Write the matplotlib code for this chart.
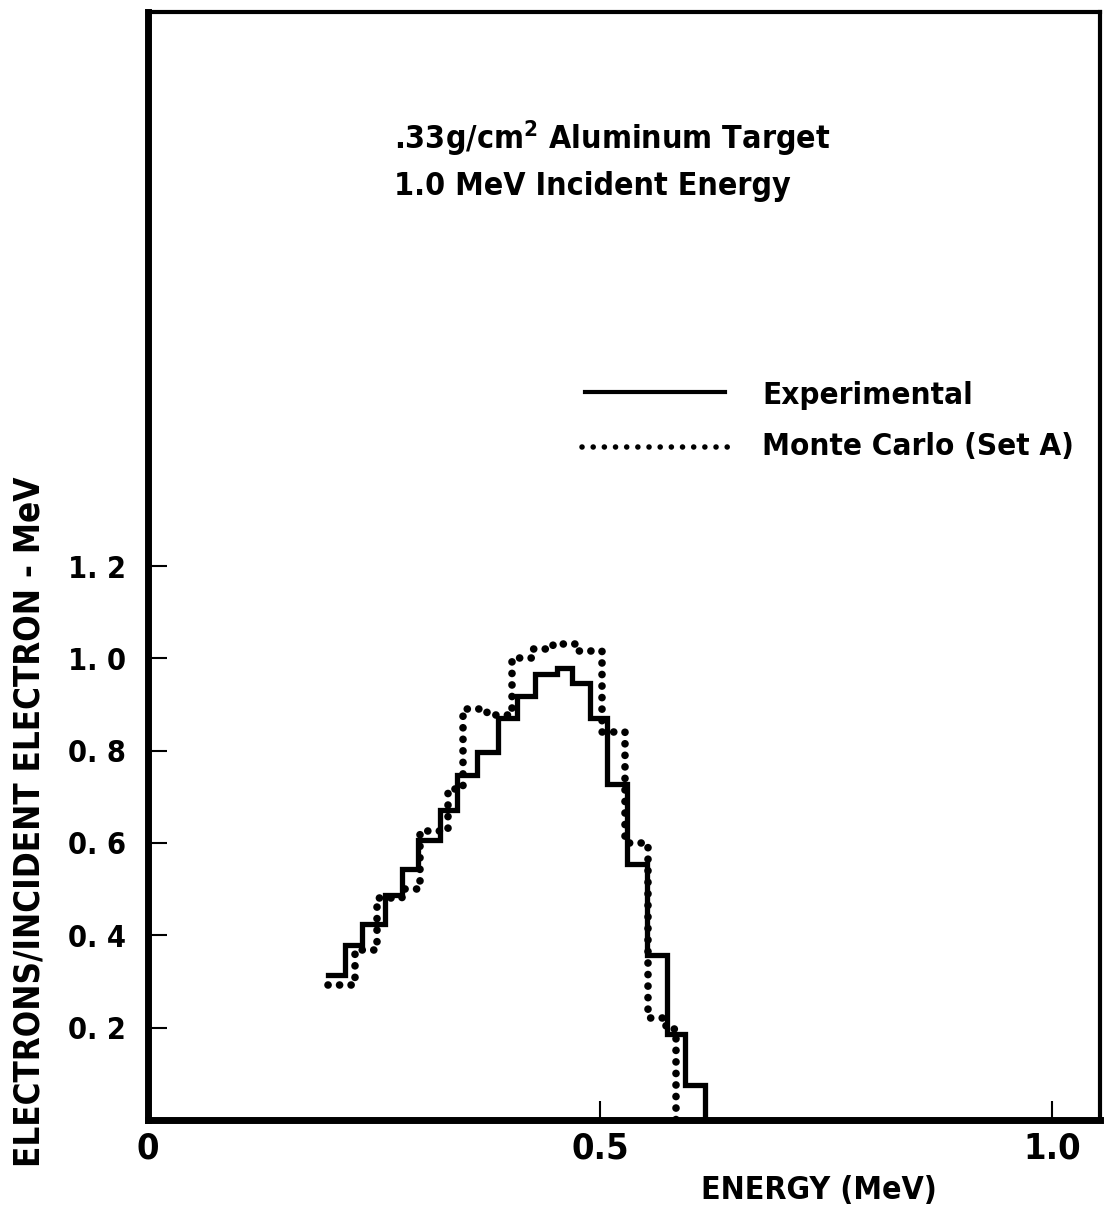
import matplotlib
matplotlib.use("Agg")
import matplotlib.pyplot as plt
from matplotlib.lines import Line2D

# bin edges (MeV) and heights
exp_edges = [0.199, 0.218, 0.237, 0.262, 0.281, 0.299, 0.323, 0.342, 0.364, 0.387, 0.408,
             0.428, 0.452, 0.469, 0.489, 0.508, 0.530, 0.552, 0.574, 0.594, 0.616]
exp_values = [0.315, 0.380, 0.425, 0.488, 0.544, 0.607, 0.672, 0.748, 0.798, 0.870,
              0.918, 0.967, 0.978, 0.946, 0.870, 0.727, 0.555, 0.358, 0.187, 0.076]

mc_edges = [0.199, 0.229, 0.253, 0.281, 0.301, 0.332, 0.348, 0.375, 0.403, 0.426, 0.448,
            0.476, 0.502, 0.528, 0.553, 0.573, 0.584]
mc_values = [0.293, 0.369, 0.480, 0.500, 0.625, 0.716, 0.890, 0.878, 1.000, 1.020,
             1.030, 1.015, 0.840, 0.600, 0.222, 0.197]

y_ticks = [0.2, 0.4, 0.6, 0.8, 1.0, 1.2]
y_ticklabels = ["0. 2", "0. 4", "0. 6", "0. 8", "1. 0", "1. 2"]
x_ticks = [0, 0.5, 1.0]
x_ticklabels = ["0", "0.5", "1.0"]

plt.rcParams['font.family'] = ['DejaVu Sans']
txt = dict(fontstretch='condensed', fontweight='bold')

fig = plt.figure(figsize=(11.06, 12.10), dpi=100)
ax = fig.add_axes([148 / 1106, 90 / 1210, 952 / 1106, 1108 / 1210])

dotted = (0, (0.01, 1.5))

# histograms, each ends with a drop to the axis
ax.step(exp_edges, exp_values + [0], where='post', color='black', lw=3.8,
        solid_joinstyle='miter')
ax.step(mc_edges, mc_values + [0], where='post', color='black', lw=5.5,
        linestyle=dotted, dash_capstyle='round')

ax.set_xlim(0, 1.053)
ax.set_ylim(0, 2.40)

for side in ['left', 'bottom']:
    ax.spines[side].set_linewidth(5)
for side in ['top', 'right']:
    ax.spines[side].set_linewidth(3)

ax.set_yticks(y_ticks)
ax.set_yticklabels(y_ticklabels, fontsize=22, **txt)
ax.set_xticks(x_ticks)
ax.set_xticklabels(x_ticklabels, fontsize=26, **txt)
ax.tick_params(axis='y', direction='in', length=14, width=1.5, pad=16)
ax.tick_params(axis='x', direction='in', length=14, width=1.5, pad=8)
ax.xaxis.get_major_ticks()[0].tick1line.set_visible(False)

# axis titles
fig.text(819 / 1106, 1 - 1190 / 1210, "ENERGY (MeV)", fontsize=23,
         ha='center', va='center', **txt)
fig.text(30 / 1106, 1 - 822 / 1210, "ELECTRONS/INCIDENT ELECTRON - MeV", fontsize=25,
         rotation=90, ha='center', va='center', **txt)

# target description
fig.text(394 / 1106, 1 - 138 / 1210, r".33g/cm$^{\mathregular{2}}$ Aluminum Target",
         fontsize=23, ha='left', va='center', **txt)
fig.text(394 / 1106, 1 - 186 / 1210, "1.0 MeV Incident Energy",
         fontsize=23, ha='left', va='center', **txt)

# legend drawn by hand
fig.add_artist(Line2D([585 / 1106, 725 / 1106], [1 - 392 / 1210, 1 - 392 / 1210],
                      color='black', lw=3))
fig.add_artist(Line2D([582 / 1106, 728 / 1106], [1 - 447 / 1210, 1 - 447 / 1210],
                      color='black', lw=4, linestyle=(0, (0.01, 2.0)), dash_capstyle='round'))
fig.text(762 / 1106, 1 - 396 / 1210, "Experimental", fontsize=22.5, ha='left', va='center',
         **txt)
fig.text(762 / 1106, 1 - 447 / 1210, "Monte Carlo (Set A)", fontsize=22.5, ha='left',
         va='center', **txt)

fig.savefig("out.png", dpi=100)
